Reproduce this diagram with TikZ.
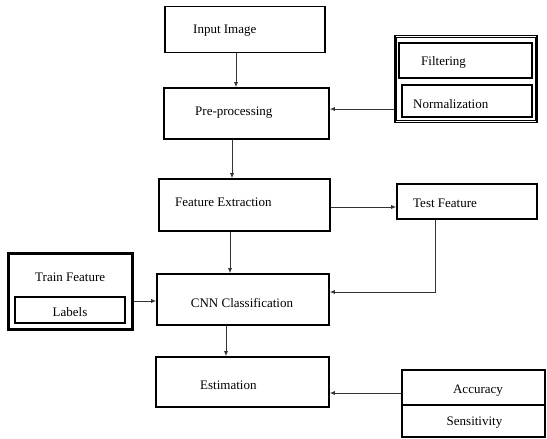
\documentclass[tikz,border=0pt]{standalone}
\usepackage{fontspec}
\setmainfont{Liberation Serif}
\usetikzlibrary{arrows.meta}
\begin{document}
\begin{tikzpicture}[x=1pt,y=-1pt,
  box/.style={draw=black,line width=1.6pt,rectangle,inner sep=0pt},
  obox/.style={draw=black,line width=1.1pt,rectangle,inner sep=0pt},
  lbl/.style={font=\fontsize{13}{15}\selectfont,inner sep=0pt,anchor=west},
  clbl/.style={font=\fontsize{13}{15}\selectfont,inner sep=0pt},
  arr/.style={draw=black!80,line width=0.8pt,-{Latex[length=5pt,width=4pt]}},
  inset/.style={draw=black,line width=0.8pt}]
\useasboundingbox[fill=white] (0,0) rectangle (547,439);
% boxes
\node[box,minimum width=160pt,minimum height=46pt] (inp) at (245,29.5) {};
\node[box,minimum width=165pt,minimum height=51pt] (pre) at (246.5,113.5) {};
\node[obox,minimum width=142pt,minimum height=87pt] (filt) at (466,79) {};
\draw[inset] ([shift={(2.4,2.4)}]filt.north west) rectangle ([shift={(-2.4,-2.4)}]filt.south east);
\node[box,minimum width=133pt,minimum height=35pt] (fil) at (465.5,60.5) {};
\node[box,minimum width=130pt,minimum height=32pt] (nor) at (467,101) {};
\node[box,minimum width=171pt,minimum height=52pt] (fe) at (244.5,205) {};
\node[box,minimum width=140pt,minimum height=35pt] (tf) at (467,201.5) {};
\node[obox,minimum width=125pt,minimum height=77pt] (trn) at (70.5,291.5) {};
\draw[inset] ([shift={(2.4,2.4)}]trn.north west) rectangle ([shift={(-2.4,-2.4)}]trn.south east);
\node[box,minimum width=110pt,minimum height=26pt] (lab) at (70,310) {};
\node[box,minimum width=172pt,minimum height=51pt] (cnn) at (243,299.5) {};
\node[box,minimum width=173pt,minimum height=50pt] (est) at (242.5,382) {};
\node[box,minimum width=143pt,minimum height=67pt] (acc) at (473.5,403.5) {};
\draw[line width=1.6pt] (acc.west |- 0,405) -- (acc.east |- 0,405);
% texts
\node[lbl] (tinp) at (193,31) {Input Image};
\node[lbl] (tpre) at (195,113) {Pre-processing};
\node[lbl] (tfil) at (421,62) {Filtering};
\node[lbl] (tnor) at (413,104) {Normalization};
\node[lbl] (tfe) at (175,202) {Feature Extraction};
\node[lbl] (ttf) at (413,203) {Test Feature};
\node[lbl] (ttrn) at (35,277) {Train Feature};
\node[clbl] (tlab) at (70,312) {Labels};
\node[clbl] (tcnn) at (242,303) {CNN Classification};
\node[lbl] (test) at (200,385) {Estimation};
\node[clbl] (tacc) at (478,391) {Accuracy};
\node[clbl] (tsen) at (474.5,423) {Sensitivity};
% connectors
\draw[arr] (inp.south -| 236,0) -- (pre.north -| 236,0);
\draw[arr] (filt.west |- 0,109) -- (pre.east |- 0,109);
\draw[arr] (pre.south -| 232,0) -- (fe.north -| 232,0);
\draw[arr] (fe.east |- 0,207) -- (tf.west |- 0,207);
\draw[arr] (fe.south -| 230,0) -- (cnn.north -| 230,0);
\draw[arr] (tf.south -| 435,0) -- (435,292) -- (cnn.east |- 0,292);
\draw[arr] (trn.east |- 0,301) -- (cnn.west |- 0,301);
\draw[arr] (cnn.south -| 226,0) -- (est.north -| 226,0);
\draw[arr] (acc.west |- 0,393) -- (est.east |- 0,393);
\end{tikzpicture}
\end{document}
